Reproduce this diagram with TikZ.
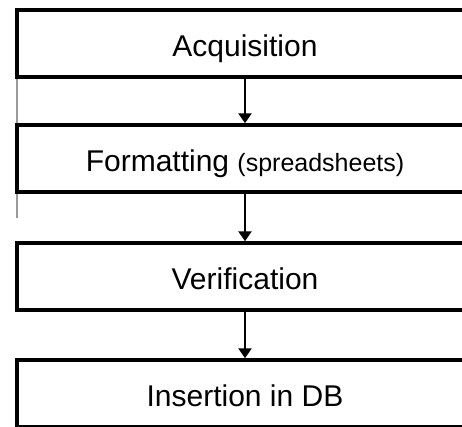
\documentclass[tikz,border=0pt]{standalone}
\usepackage{fontspec}
\setmainfont{Liberation Sans}
\usetikzlibrary{arrows.meta}
\begin{document}
\begin{tikzpicture}[x=1pt,y=-1pt,
  stage/.style={draw=black, line width=3.5pt, rectangle,
    minimum width=456pt, minimum height=67pt, inner sep=0pt,
    text height=25pt, text depth=0pt,
    font=\fontsize{30}{34}\selectfont},
  flow/.style={line width=2.6pt, -{Triangle[width=13pt,length=10pt]}},
  guide/.style={draw=gray!80, line width=1.3pt}]
\useasboundingbox (0,0) rectangle (462,426);
\clip (0,0) rectangle (462,426);

% the four processing stages
\node[stage] (acq) at (245,43.5)  {Acquisition};
\node[stage] (fmt) at (245,158.5) {Formatting {\fontsize{25}{28}\selectfont(spreadsheets)}};
\node[stage] (ver) at (245,276.5) {Verification};
\node[stage] (ins) at (245,393.5) {Insertion in DB};

% flow between stages
\draw[flow] (acq.south) -- (fmt.north);
\draw[flow] (fmt.south) -- (ver.north);
\draw[flow] (ver.south) -- (ins.north);

% thin rules along the left margin
\coordinate (gend) at (17,218);
\draw[guide] ([xshift=1.75pt]acq.south west) -- ([xshift=1.75pt]fmt.north west);
\draw[guide] ([xshift=1.75pt]fmt.south west) -- (gend);
\end{tikzpicture}
\end{document}
